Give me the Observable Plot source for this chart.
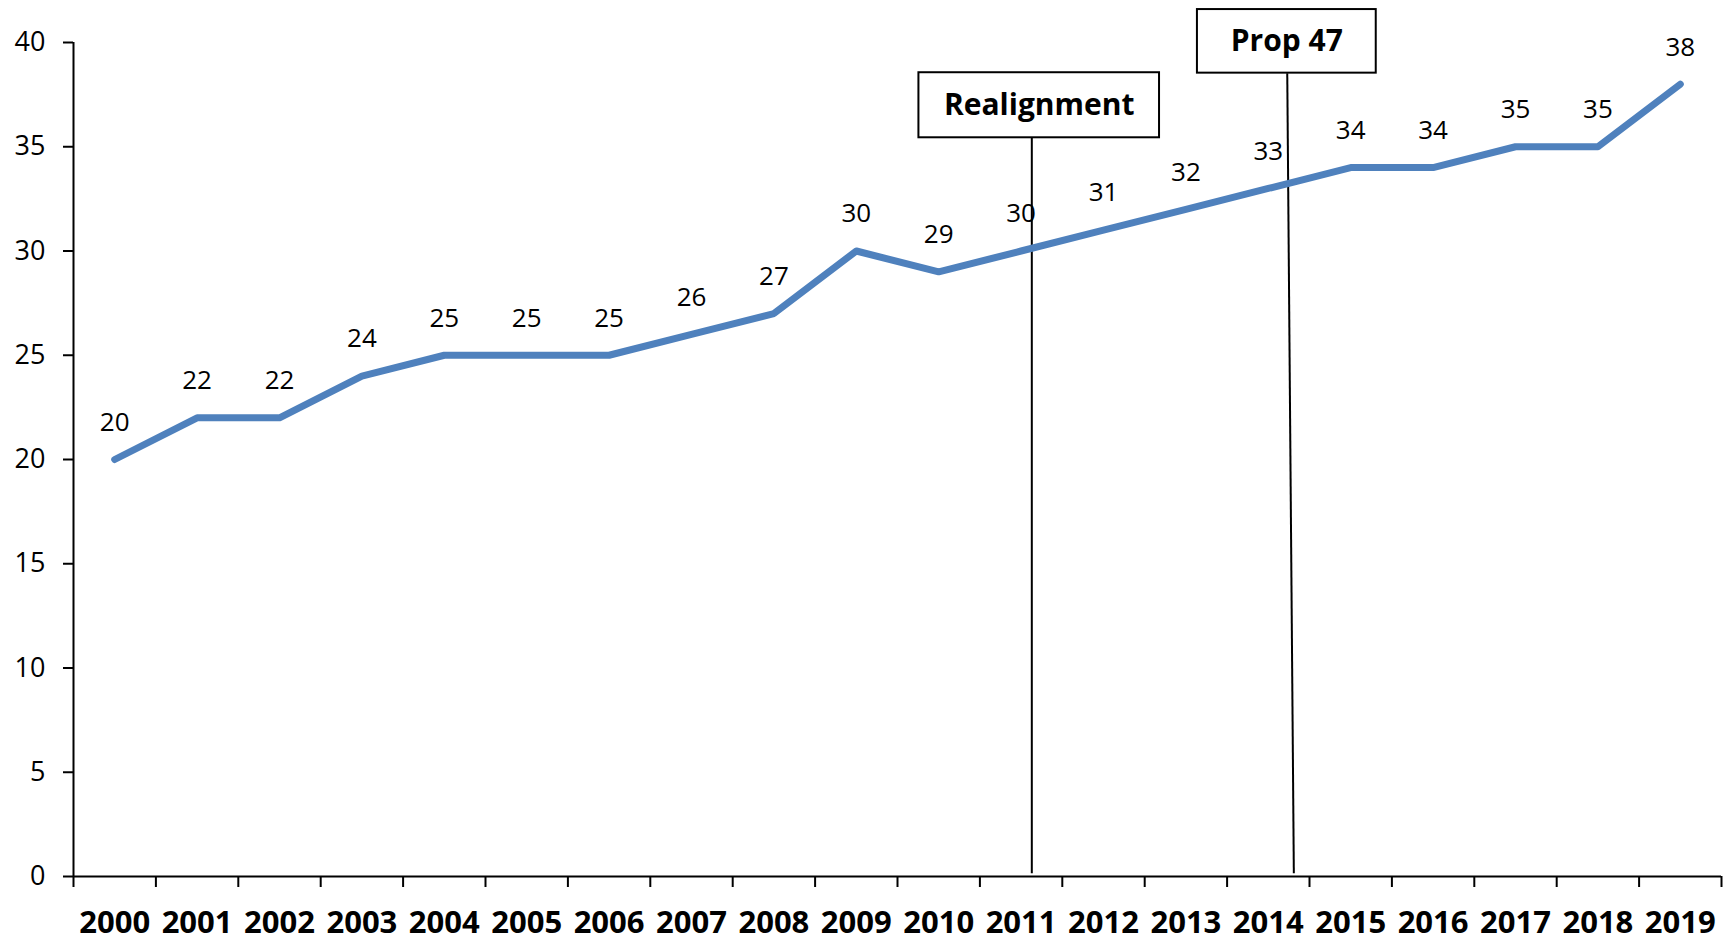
<!DOCTYPE html>
<html>
<head>
<meta charset="utf-8">
<script src="https://cdn.jsdelivr.net/npm/d3@7"></script>
<script src="https://cdn.jsdelivr.net/npm/@observablehq/plot@0.6"></script>
<style>
  html, body { margin: 0; padding: 0; background: #fff; }
  #chart { width: 1733px; height: 940px; }
</style>
</head>
<body>
<div id="chart"></div>
<script>
const years = ["2000","2001","2002","2003","2004","2005","2006","2007","2008","2009",
               "2010","2011","2012","2013","2014","2015","2016","2017","2018","2019"];
const values = [20,22,22,24,25,25,25,26,27,30,29,30,31,32,33,34,34,35,35,38];
const yTicks = [0,5,10,15,20,25,30,35,40];

// annotations (x in fractional year index, y in value units)
const annoLabels = ["Realignment", "Prop 47"];
const annoLineXTop = [11.13, 14.23];
const annoLineXBottom = [11.13, 14.31];
const annoBoxX1 = [9.76, 13.14];
const annoBoxX2 = [12.68, 15.31];
const annoBoxTop = [38.55, 41.58];
const annoBoxBottom = [35.43, 38.53];

const data = values.map((v, i) => ({i, year: years[i], value: v}));
const annos = annoLabels.map((label, k) => ({
  label,
  xt: annoLineXTop[k], xb: annoLineXBottom[k],
  x1: annoBoxX1[k], x2: annoBoxX2[k],
  top: annoBoxTop[k], bottom: annoBoxBottom[k]
}));
const boundaries = d3.range(21).map(d => d - 0.5);

const chart = Plot.plot({
  width: 1733,
  height: 940,
  marginLeft: 73,
  marginRight: 12,
  marginTop: 42,
  marginBottom: 64,
  style: { fontFamily: "'Open Sans', sans-serif", background: "#fff", color: "#000", overflow: "visible" },
  x: { type: "linear", domain: [-0.5, 19.5] },
  y: { domain: [0, 40] },
  marks: [
    Plot.axisY({ ticks: yTicks, tickSize: 10, tickPadding: 18, fontSize: 27, stroke: "#000", strokeWidth: 2, strokeOpacity: 1, label: null }),
    Plot.axisX({ ticks: boundaries, tickSize: 11, tickFormat: () => "", stroke: "#000", strokeWidth: 2, strokeOpacity: 1, label: null }),
    Plot.axisX({ ticks: d3.range(20), tickSize: 0, tickPadding: 34, tickFormat: i => years[i], fontSize: 31, fontWeight: "bold", label: null }),
    Plot.ruleX([-0.5], { stroke: "#000", strokeWidth: 2 }),
    Plot.ruleY([0], { stroke: "#000", strokeWidth: 2 }),
    Plot.link(annos, { x1: "xt", y1: "bottom", x2: "xb", y2: 0.16, stroke: "#000", strokeWidth: 2 }),
    Plot.rect(annos, { x1: "x1", x2: "x2", y1: "bottom", y2: "top", fill: "#fff", stroke: "#000", strokeWidth: 2 }),
    Plot.text(annos, { x: d => (d.x1 + d.x2) / 2, y: d => (d.top + d.bottom) / 2, text: "label", fontSize: 30, fontWeight: "bold", fill: "#000" }),
    Plot.line(data, { x: "i", y: "value", stroke: "#4F81BD", strokeWidth: 7, strokeLinejoin: "round", strokeLinecap: "round" }),
    Plot.text(data, { x: "i", y: "value", text: d => String(d.value), dy: -37, fontSize: 26, fill: "#000" })
  ]
});
document.getElementById("chart").appendChild(chart);
</script>
</body>
</html>
